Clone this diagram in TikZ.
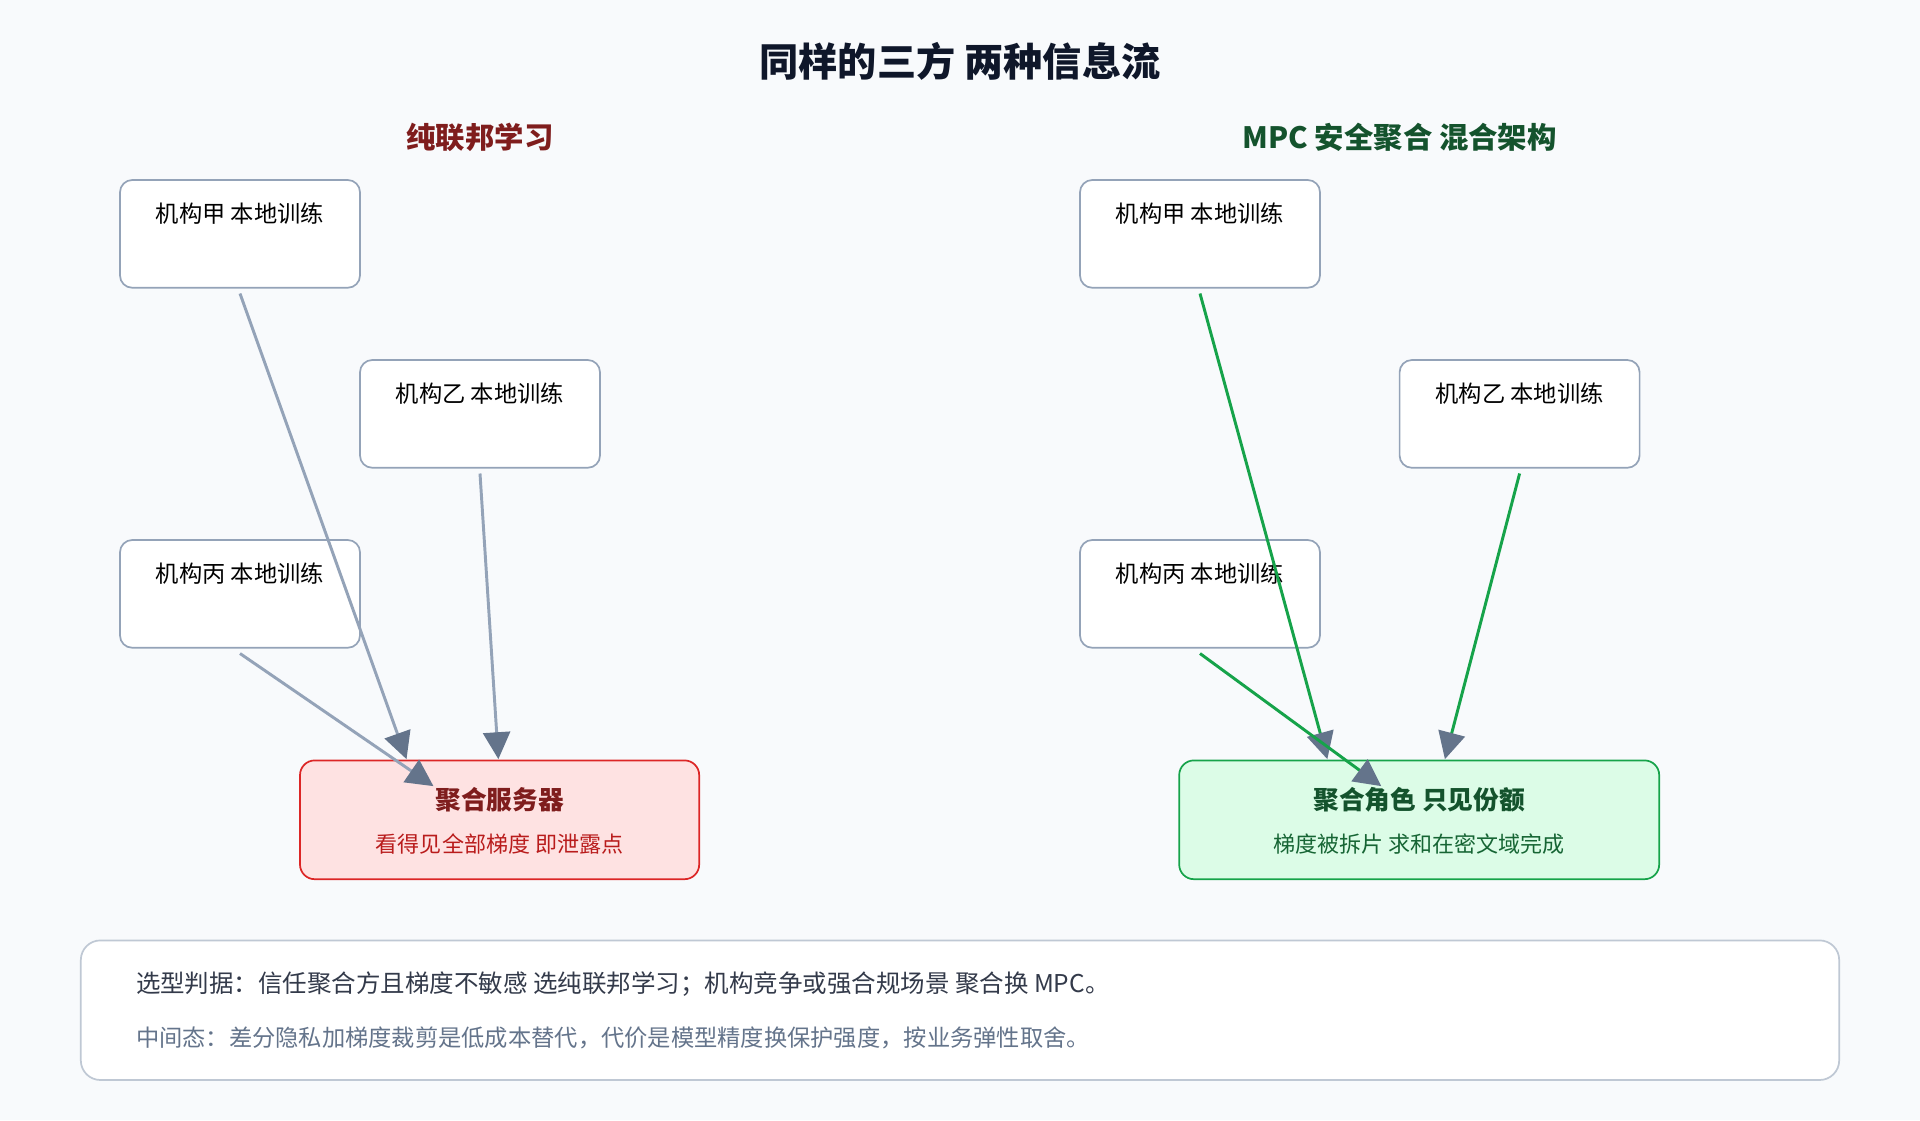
\documentclass[tikz,border=0pt]{standalone}
\usepackage{fontspec}
\setmainfont{Noto Sans CJK SC}
\usetikzlibrary{arrows.meta, calc}
\definecolor{bg}{HTML}{F8FAFC}
\definecolor{boxline}{HTML}{94A3B8}
\definecolor{tipcol}{HTML}{64748B}
\definecolor{darkred}{HTML}{7F1D1D}
\definecolor{midred}{HTML}{B91C1C}
\definecolor{redline}{HTML}{DC2626}
\definecolor{pinkfill}{HTML}{FEE2E2}
\definecolor{darkgreen}{HTML}{14532D}
\definecolor{midgreen}{HTML}{166534}
\definecolor{greenline}{HTML}{16A34A}
\definecolor{greenfill}{HTML}{DCFCE7}
\definecolor{titlecol}{HTML}{0F172A}
\definecolor{notecol}{HTML}{64748B}

\begin{document}
\begin{tikzpicture}[x=0.5pt, y=-0.5pt,
  party/.style={draw=boxline, fill=white, rounded corners=5pt, line width=0.7pt, minimum width=98pt, minimum height=44pt},
  tag/.style={font=\fontsize{9.5}{11}\selectfont, anchor=north},
  flow/.style={line width=1.2pt, -{Triangle[length=11pt, width=11pt, fill=tipcol, color=tipcol]}},
  grayflow/.style={flow, draw=boxline},
  greenflow/.style={flow, draw=greenline}]
  \fill[bg] (0,0) rectangle (1568,915);
  \useasboundingbox (0,0) rectangle (1568,915);

  \node[font=\bfseries\fontsize{16}{18}\selectfont, text=titlecol] (title) at (784,50) {同样的三方 两种信息流};
  \node[font=\bfseries\fontsize{12}{14}\selectfont, text=darkred]   (lefthead)  at (392,112)  {纯联邦学习};
  \node[font=\bfseries\fontsize{12}{14}\selectfont, text=darkgreen] (righthead) at (1143,112) {MPC 安全聚合 混合架构};

  % left: pure federated learning
  \node[party] (la) at (196,191) {};
  \node[party] (lb) at (392,338) {};
  \node[party] (lc) at (196,485) {};
  \node[tag] (lat) at ($(la.north)+(0,12)$) {机构甲 本地训练};
  \node[tag] (lbt) at ($(lb.north)+(0,12)$) {机构乙 本地训练};
  \node[tag] (lct) at ($(lc.north)+(0,12)$) {机构丙 本地训练};
  \node[draw=redline, fill=pinkfill, rounded corners=6pt, line width=0.7pt, minimum width=163pt, minimum height=48.5pt] (srv) at (408,669.5) {};
  \node[font=\bfseries\fontsize{10.5}{12}\selectfont, text=darkred] (srvt) at (408,653) {聚合服务器};
  \node[font=\fontsize{9}{11}\selectfont, text=midred] (srvs) at (408,689) {看得见全部梯度 即泄露点};
  \coordinate (sa) at (332,620);
  \coordinate (sb) at (407,620);
  \coordinate (sc) at (354,642);
  \draw[grayflow] ($(la.south)+(0,4)$) -- (sa);
  \draw[grayflow] ($(lb.south)+(0,4)$) -- (sb);
  \draw[grayflow] ($(lc.south)+(0,4)$) -- (sc);

  % right: MPC secure aggregation
  \node[party] (ra) at (980,191) {};
  \node[party] (rb) at (1241,338) {};
  \node[party] (rc) at (980,485) {};
  \node[tag] (rat) at ($(ra.north)+(0,12)$) {机构甲 本地训练};
  \node[tag] (rbt) at ($(rb.north)+(0,12)$) {机构乙 本地训练};
  \node[tag] (rct) at ($(rc.north)+(0,12)$) {机构丙 本地训练};
  \node[draw=greenline, fill=greenfill, rounded corners=6pt, line width=0.7pt, minimum width=196pt, minimum height=48.5pt] (agg) at (1159,669.5) {};
  \node[font=\bfseries\fontsize{10.5}{12}\selectfont, text=darkgreen] (aggt) at (1159,653) {聚合角色 只见份额};
  \node[font=\fontsize{9}{11}\selectfont, text=midgreen] (aggs) at (1159,689) {梯度被拆片 求和在密文域完成};
  \coordinate (ga) at (1084,620);
  \coordinate (gb) at (1180,620);
  \coordinate (gc) at (1128,642);
  \draw[greenflow] ($(ra.south)+(0,4)$) -- (ga);
  \draw[greenflow] ($(rb.south)+(0,4)$) -- (gb);
  \draw[greenflow] ($(rc.south)+(0,4)$) -- (gc);

  % note
  \node[draw=boxline!60, fill=white, rounded corners=8pt, line width=0.7pt, minimum width=718pt, minimum height=57pt] (note) at (784,825) {};
  \node[anchor=west, font=\fontsize{10}{12}\selectfont, text=titlecol!85] (note1) at (104,804) {选型判据：信任聚合方且梯度不敏感 选纯联邦学习；机构竞争或强合规场景 聚合换 MPC。};
  \node[anchor=west, font=\fontsize{9.5}{11}\selectfont, text=notecol] (note2) at (104,848) {中间态：差分隐私加梯度裁剪是低成本替代，代价是模型精度换保护强度，按业务弹性取舍。};
\end{tikzpicture}
\end{document}
